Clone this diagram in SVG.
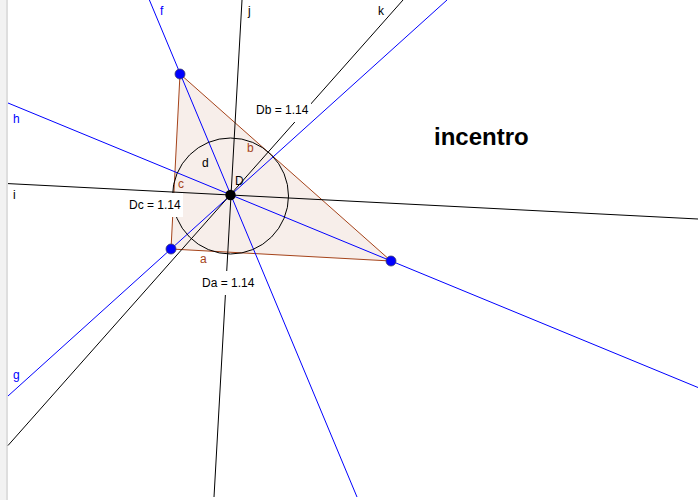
<svg xmlns="http://www.w3.org/2000/svg" width="700" height="500" viewBox="0 0 700 500">
<style>
text{font-family:"Liberation Sans",Arial,sans-serif;font-size:12px}
.bl{stroke:#0000ff;stroke-width:1;fill:none}
.bk{stroke:#000;stroke-width:1;fill:none}
.edge{stroke:#a5431a;stroke-width:1;fill:none}
.pt{fill:#0000ff;stroke:#3a3a6a;stroke-width:.8}
.lb{fill:#0000ff}.lr{fill:#a5431a}.lk{fill:#000}
.box{fill:#fff}
</style>
<rect width="700" height="500" fill="#fff"/>
<rect x="0" y="0" width="6" height="500" fill="#f2f2f2"/>
<rect x="6" y="0" width="2" height="500" fill="#dedede"/>
<g id="triangle">
<polygon points="171,249 391,261 180,74" fill="#a5431a" fill-opacity=".09" stroke="none"/>
<path class="edge" d="M171 249L391 261M391 261L180 74"/>
<path class="edge" d="M171 249L180 74" stroke-width="1.4"/>
</g>
<g id="connectors">
<path class="bl" d="M149.400 0L357 497"/>
<path class="bl" d="M8 103L698 387.500"/>
<path class="bl" d="M8 396L447 0"/>
<path class="bk" d="M8 445.500L403 0"/>
<path class="bk" d="M242 0L214 497"/>
<path class="bk" d="M8 183.600L698 219"/>
<circle class="bk" cx="230.500" cy="196" r="58"/>
</g>
<g id="label-Db"><rect class="box" x="253" y="98" width="58" height="24"/><text x="256" y="114" class="lk">Db = 1.14</text></g>
<g id="label-Dc"><rect class="box" x="126" y="193" width="57" height="24"/><text x="129" y="209" class="lk">Dc = 1.14</text></g>
<g id="label-Da"><rect class="box" x="199" y="271" width="58" height="24"/><text x="202" y="287" class="lk">Da = 1.14</text></g>
<g id="point-C"><circle class="pt" cx="180" cy="74" r="5"/></g>
<g id="point-A"><circle class="pt" cx="171" cy="249" r="5"/></g>
<g id="point-B"><circle class="pt" cx="391" cy="261" r="5"/></g>
<g id="point-D"><circle cx="230.500" cy="195" r="5.200" fill="#000"/><text x="235" y="185" class="lk">D</text></g>
<g id="labels">
<text x="160" y="15" class="lb">f</text>
<text x="248" y="15" class="lk">j</text>
<text x="378" y="15" class="lk">k</text>
<text x="13" y="123" class="lb">h</text>
<text x="13" y="199" class="lk">i</text>
<text x="13" y="379" class="lb">g</text>
<text x="202" y="167" class="lk">d</text>
<text x="247" y="152" class="lr">b</text>
<text x="178" y="188" class="lr">c</text>
<text x="200" y="263" class="lr">a</text>
<text x="434" y="145" style="font-size:24px;font-weight:bold">incentro</text>
</g>
</svg>
